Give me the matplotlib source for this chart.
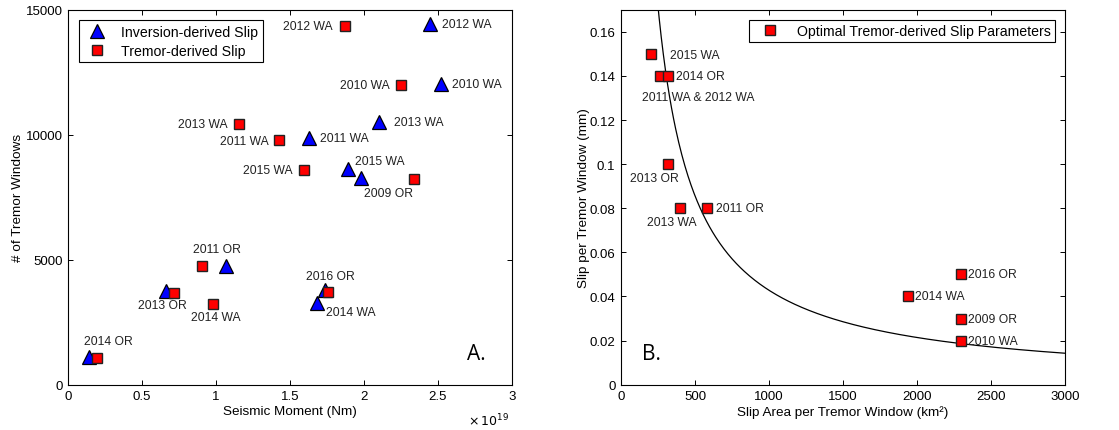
import numpy as np
import matplotlib
matplotlib.use('Agg')
import matplotlib.pyplot as plt
from matplotlib.ticker import FuncFormatter

plt.rcParams['font.family'] = ['Liberation Sans', 'DejaVu Sans']

# panel A: seismic moment vs number of tremor windows
events = ['2012 WA', '2010 WA', '2013 WA', '2011 WA', '2015 WA', '2009 OR',
          '2011 OR', '2013 OR', '2016 OR', '2014 WA', '2014 OR']
inv_moment = [2.45e19, 2.52e19, 2.10e19, 1.63e19, 1.89e19, 1.98e19,
              1.067e19, 0.659e19, 1.737e19, 1.685e19, 0.142e19]
inv_windows = [14430, 12030, 10500, 9860, 8630, 8270, 4760, 3730, 3790, 3270, 1120]
trem_moment = [1.872e19, 2.251e19, 1.153e19, 1.428e19, 1.593e19, 2.339e19,
               0.907e19, 0.713e19, 1.759e19, 0.977e19, 0.196e19]
trem_windows = [14360, 12000, 10430, 9800, 8590, 8240, 4740, 3680, 3720, 3240, 1060]

# panel B: optimal slip parameters
slip_area = [200, 260, 320, 320, 400, 580, 2300, 1940, 2300, 2300]
slip_per_window = [0.15, 0.14, 0.14, 0.10, 0.08, 0.08, 0.05, 0.04, 0.03, 0.02]
slip_labels = ['2015 WA', '2011 WA & 2012 WA', '2014 OR', '2013 OR', '2013 WA',
               '2011 OR', '2016 OR', '2014 WA', '2009 OR', '2010 WA']
curve_const = 42.8  # area * slip (km^2 mm) along the trade-off curve

# label placement: (series, index, dx px, dy px, ha)
left_label_pos = [
    ('trem', 0, -12, 0, 'right'), ('inv', 0, 12, 0, 'left'),
    ('trem', 1, -11, 0, 'right'), ('inv', 1, 11, 0, 'left'),
    ('trem', 2, -11, 0, 'right'), ('inv', 2, 15, 0, 'left'),
    ('trem', 3, -11, -1, 'right'), ('inv', 3, 11, 0, 'left'),
    ('trem', 4, -11, 0, 'right'), ('inv', 4, 7, 8, 'left'),
    ('trem', 5, -26, -14, 'center'),
    ('trem', 6, 15, 17, 'center'),
    ('inv', 7, -3, -14, 'center'),
    ('trem', 8, 2, 16, 'center'),
    ('trem', 9, 3, -13, 'center'), ('inv', 9, 9, -9, 'left'),
    ('trem', 10, 11, 17, 'center'),
]
right_label_pos = [(19, -1, 'left'), (39, -21, 'center'), (8, 0, 'left'),
                   (-14, -14, 'center'), (-8, -14, 'center'), (9, 0, 'left'),
                   (7, 0, 'left'), (7, 0, 'left'), (7, 0, 'left'), (7, 0, 'left')]

fig = plt.figure(figsize=(11.19, 4.31), dpi=100)
ax1 = fig.add_axes([0.0610, 0.1051, 0.3963, 0.870])
ax2 = fig.add_axes([0.5550, 0.1051, 0.3968, 0.870])


def style_axes(ax):
    ax.tick_params(direction='in', length=3.6, width=0.7, top=True, right=True,
                   labelsize=9.5, pad=4)
    for sp in ax.spines.values():
        sp.set_linewidth(0.8)


ax1.plot(inv_moment, inv_windows, linestyle='none', marker='^', ms=10,
         mfc='blue', mec='k', mew=0.9, label='Inversion-derived Slip')
ax1.plot(trem_moment, trem_windows, linestyle='none', marker='s', ms=6.5,
         mfc='red', mec='#222222', mew=1.0, label='Tremor-derived Slip')

for series, i, dx, dy, ha in left_label_pos:
    if series == 'inv':
        xy = (inv_moment[i], inv_windows[i])
    else:
        xy = (trem_moment[i], trem_windows[i])
    ax1.annotate(events[i], xy, xytext=(dx, dy), textcoords='offset pixels',
                 ha=ha, va='center', fontsize=8.7, color='#222222')

ax1.set_xlim(0, 3e19)
ax1.set_ylim(0, 15000)
ax1.set_xticks(np.arange(0, 3.01e19, 0.5e19))
ax1.set_yticks([0, 5000, 10000, 15000])
ax1.xaxis.set_major_formatter(FuncFormatter(lambda v, p: '%g' % round(v / 1e19, 2)))
ax1.text(0.947, -0.095, r'$\times\,10^{19}$', transform=ax1.transAxes,
         fontsize=9, ha='center', va='center')
ax1.set_xlabel('Seismic Moment (Nm)', fontsize=9.7, labelpad=2)
ax1.set_ylabel('# of Tremor Windows', fontsize=9.7, labelpad=1)
style_axes(ax1)
leg1 = ax1.legend(loc='upper left', fontsize=10.2, fancybox=False, framealpha=1,
                  edgecolor='k', borderaxespad=0.75, handletextpad=0.7,
                  handlelength=2.0, borderpad=0.3, labelspacing=0.35,
                  numpoints=1)
leg1.get_frame().set_linewidth(0.8)
ax1.text(0.921, 0.082, 'A.', transform=ax1.transAxes, fontsize=15,
         family='Open Sans', ha='center', va='center')

# trade-off curve
curve_x = np.linspace(230, 3000, 400)
ax2.plot(curve_x, curve_const / curve_x, color='k', lw=0.9)
ax2.plot(slip_area, slip_per_window, linestyle='none', marker='s', ms=6.5,
         mfc='red', mec='#222222', mew=1.0,
         label='Optimal Tremor-derived Slip Parameters')
for i, (dx, dy, ha) in enumerate(right_label_pos):
    ax2.annotate(slip_labels[i], (slip_area[i], slip_per_window[i]),
                 xytext=(dx, dy), textcoords='offset pixels',
                 ha=ha, va='center', fontsize=8.7, color='#222222')

ax2.set_xlim(0, 3000)
ax2.set_ylim(0, 0.17)
ax2.set_xticks(np.arange(0, 3001, 500))
ax2.set_yticks([0, 0.02, 0.04, 0.06, 0.08, 0.1, 0.12, 0.14, 0.16])
ax2.set_yticklabels(['0', '0.02', '0.04', '0.06', '0.08', '0.1', '0.12', '0.14', '0.16'])
ax2.set_xlabel('Slip Area per Tremor Window (km²)', fontsize=9.7, labelpad=2)
ax2.set_ylabel('Slip per Tremor Window (mm)', fontsize=9.7, labelpad=0)
style_axes(ax2)
leg2 = ax2.legend(loc='upper right', fontsize=10.2, fancybox=False, framealpha=1,
                  edgecolor='k', borderaxespad=0.7, handletextpad=0.7,
                  handlelength=2.4, borderpad=0.3, numpoints=1)
leg2.get_frame().set_linewidth(0.8)
ax2.text(0.069, 0.082, 'B.', transform=ax2.transAxes, fontsize=15,
         family='Open Sans', ha='center', va='center')

fig.savefig('out.png', dpi=100)
plt.close(fig)
